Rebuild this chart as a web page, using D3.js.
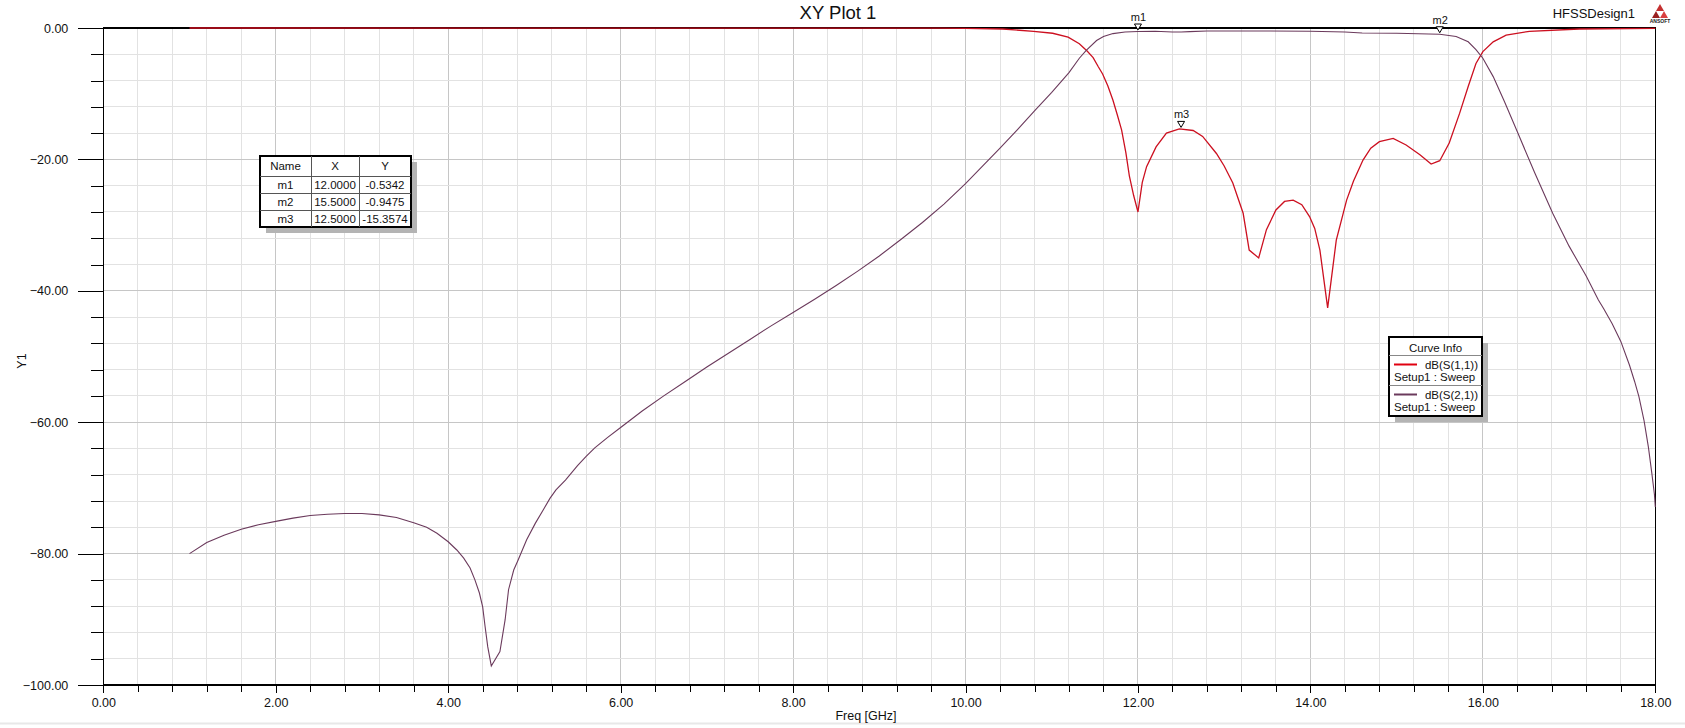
<!DOCTYPE html>
<html>
<head>
<meta charset="utf-8">
<script src="https://cdn.jsdelivr.net/npm/d3@7"></script>
<style>
  html, body { margin: 0; padding: 0; background: #ffffff; }
  svg { display: block; font-family: "Liberation Sans", Arial, sans-serif; }
</style>
</head>
<body>
<svg id="chart" width="1685" height="728"></svg>
<script>
// ---------------- DATA ----------------
const xTickValues = [0, 2, 4, 6, 8, 10, 12, 14, 16, 18];
const yTickValues = [0, -20, -40, -60, -80, -100];

// dB(S(2,1))
const s21Freq = [1.0, 1.2, 1.4, 1.6, 1.8, 2.0, 2.2, 2.4, 2.6, 2.8, 3.0, 3.2, 3.4, 3.6, 3.75, 3.87, 4.0, 4.1, 4.18, 4.254, 4.31, 4.362, 4.40, 4.428, 4.459, 4.50,
  4.60, 4.66, 4.70, 4.76, 4.81, 4.91, 5.01, 5.10, 5.18, 5.25, 5.36, 5.5, 5.6, 5.7, 5.85, 6.0, 6.25, 6.5, 6.75, 7.0, 7.25, 7.5, 7.75, 8.0, 8.25, 8.5,
  8.75, 9.0, 9.25, 9.5, 9.75, 10.0, 10.2, 10.4, 10.6, 10.8, 11.0, 11.2, 11.32, 11.4, 11.52, 11.6, 11.71, 11.85,
  12.0, 12.2, 12.4, 12.5, 12.6, 12.8, 13.5, 14.0, 14.4, 14.6, 15.0, 15.5, 15.69, 15.83, 15.92, 16.0, 16.12, 16.25, 16.39, 16.6, 16.81,
  17.0, 17.2, 17.34, 17.4, 17.5, 17.6, 17.7, 17.76, 17.81, 17.87, 17.92, 17.96, 17.99, 18.0];
const s21Db = [-80.0, -78.3, -77.2, -76.3, -75.6, -75.1, -74.6, -74.2, -74.0, -73.9, -73.9, -74.1, -74.5, -75.3, -76.0, -76.9, -78.2, -79.45, -80.7, -82.2, -84.0, -86.0, -88.1, -91.1, -94.2, -97.1,
  -94.9, -90.1, -85.5, -82.5, -81.0, -77.9, -75.4, -73.4, -71.6, -70.3, -68.8, -66.6, -65.2, -63.9, -62.3, -60.8, -58.3, -56.0, -53.8, -51.6, -49.5, -47.4, -45.3, -43.3, -41.3, -39.2,
  -37.0, -34.7, -32.2, -29.6, -26.8, -23.7, -21.0, -18.3, -15.5, -12.6, -9.8, -6.8, -4.6, -3.4, -1.9, -1.3, -0.85, -0.6,
  -0.53, -0.5, -0.6, -0.62, -0.55, -0.45, -0.45, -0.5, -0.6, -0.75, -0.8, -0.95, -1.3, -2.1, -3.3, -4.6, -7.4, -11.2, -15.5, -22.0, -28.2,
  -33.2, -37.8, -41.4, -42.7, -45.0, -47.7, -51.3, -53.8, -56.1, -59.8, -63.8, -67.8, -71.0, -72.9];

// dB(S(1,1))
const s11Freq = [1.0, 9.7, 10.0, 10.43, 10.79, 11.01, 11.19, 11.32, 11.41, 11.48, 11.54, 11.59, 11.65, 11.71, 11.76, 11.81, 11.86, 11.9, 11.95,
  12.0, 12.05, 12.1, 12.21, 12.33, 12.48, 12.64, 12.75, 12.91, 13.0, 13.1, 13.22, 13.29, 13.40, 13.49, 13.6, 13.7, 13.8, 13.9, 13.99,
  14.05, 14.11, 14.2, 14.3, 14.42, 14.5, 14.61, 14.7, 14.8, 14.96, 15.11, 15.27, 15.4, 15.5, 15.61, 15.73, 15.83, 15.92, 16.0, 16.12,
  16.27, 16.54, 17.12, 18.0];
const s11Db = [0.0, -0.02, -0.05, -0.15, -0.5, -0.8, -1.4, -2.4, -3.5, -4.5, -5.9, -7.0, -8.8, -11.0, -13.2, -15.5, -19.0, -22.5, -25.5,
  -28.0, -23.5, -21.1, -18.1, -16.0, -15.36, -15.6, -16.5, -19.1, -21.0, -23.6, -28.2, -33.8, -35.0, -30.7, -27.7, -26.4, -26.2, -26.9, -28.7,
  -30.5, -33.8, -42.6, -32.3, -26.2, -23.3, -20.1, -18.3, -17.3, -16.8, -17.8, -19.3, -20.7, -20.2, -17.5, -13.0, -8.9, -5.4, -3.6, -2.1,
  -1.1, -0.5, -0.15, -0.05];

// markers
const markerNames = ["m1", "m2", "m3"];
const markerX = [12.0, 15.5, 12.5];
const markerY = [-0.5342, -0.9475, -15.3574];
const markerXText = ["12.0000", "15.5000", "12.5000"];
const markerYText = ["-0.5342", "-0.9475", "-15.3574"];

const legendNames = ["dB(S(1,1))", "dB(S(2,1))"];
const legendSetup = ["Setup1 : Sweep", "Setup1 : Sweep"];

// ---------------- STYLE / LAYOUT ----------------
const colS11 = "#cc1020";
const colS21 = "#6b3a5c";
const L = 103.3, R = 1655.3, T = 28, B = 685;

const svg = d3.select("#chart");
const x = d3.scaleLinear().domain([0, 18]).range([L, R]);
const y = d3.scaleLinear().domain([-100, 0]).range([B, T]);

// bottom window border line
svg.append("line").attr("x1", 0).attr("x2", 1685).attr("y1", 723.5).attr("y2", 723.5)
  .attr("stroke", "#e8e8e8").attr("stroke-width", 2);

// grid
const xMinor = d3.range(0, 18.0001, 0.4).map(v => +v.toFixed(2));
const yMinor = d3.range(-100, 0.0001, 4);
const grid = svg.append("g");
grid.selectAll(".vx").data(xMinor).enter().append("line")
  .attr("x1", d => x(d)).attr("x2", d => x(d)).attr("y1", T).attr("y2", B)
  .attr("stroke", d => (Math.abs(d / 2 - Math.round(d / 2)) < 1e-6) ? "#c6c6c6" : "#e2e2e2")
  .attr("stroke-width", 1).attr("shape-rendering", "crispEdges");
grid.selectAll(".hy").data(yMinor).enter().append("line")
  .attr("x1", L).attr("x2", R).attr("y1", d => y(d)).attr("y2", d => y(d))
  .attr("stroke", d => (d % 20 === 0) ? "#c6c6c6" : "#e2e2e2")
  .attr("stroke-width", 1).attr("shape-rendering", "crispEdges");

// axes (ticks)
const fmt = d3.format(".2f");
const yMinorAxis = svg.append("g").attr("transform", `translate(${L},0)`)
  .call(d3.axisLeft(y).tickValues(yMinor).tickSize(12).tickFormat(""));
const yMajorAxis = svg.append("g").attr("transform", `translate(${L},0)`)
  .call(d3.axisLeft(y).tickValues(yTickValues).tickSize(25).tickPadding(10).tickFormat(fmt));
const xMinorAxis = svg.append("g").attr("transform", `translate(0,${B})`)
  .call(d3.axisBottom(x).tickValues(xMinor).tickSize(7).tickFormat(""));
const xMajorAxis = svg.append("g").attr("transform", `translate(0,${B})`)
  .call(d3.axisBottom(x).tickValues(xTickValues).tickSize(8).tickPadding(5).tickFormat(fmt));
[yMinorAxis, yMajorAxis, xMinorAxis, xMajorAxis].forEach(g => {
  g.select(".domain").remove();
  g.selectAll("line").attr("stroke", "#000").attr("shape-rendering", "crispEdges");
  g.selectAll("text").attr("fill", "#111").style("font-size", "12.5px")
    .style("font-family", '"Liberation Sans", Arial, sans-serif');
});

// frame
svg.append("rect").attr("x", L).attr("y", T).attr("width", R - L).attr("height", B - T)
  .attr("fill", "none").attr("stroke", "#000").attr("stroke-width", 1.2).attr("shape-rendering", "crispEdges");

// curves
const clip = svg.append("clipPath").attr("id", "plotclip").append("rect")
  .attr("x", L).attr("y", T - 2).attr("width", R - L + 1).attr("height", B - T + 4);
const line = d3.line().x(d => x(d[0])).y(d => y(d[1]));
const s11Pts = s11Freq.map((f, i) => [f, s11Db[i]]);
const s21Pts = s21Freq.map((f, i) => [f, s21Db[i]]);
svg.append("path").attr("d", line(s11Pts)).attr("fill", "none").attr("stroke", colS11)
  .attr("stroke-width", 1.3).attr("clip-path", "url(#plotclip)");
svg.append("path").attr("d", line(s21Pts)).attr("fill", "none").attr("stroke", colS21)
  .attr("stroke-width", 1.1).attr("clip-path", "url(#plotclip)");

// markers
markerNames.forEach((n, i) => {
  const px = x(markerX[i]), py = y(markerY[i]);
  svg.append("path")
    .attr("d", `M${px - 3.5},${py - 7.5} L${px + 3.5},${py - 7.5} L${px},${py - 1.5} Z`)
    .attr("fill", "#fff").attr("stroke", "#000").attr("stroke-width", 1);
  svg.append("text").attr("x", px + 0.5).attr("y", py - 10.5).attr("text-anchor", "middle")
    .style("font-size", "11px").attr("fill", "#111").text(n);
});

// marker table
(function () {
  const tx = 260, ty = 156, cols = [0, 51, 99, 151], rows = [0, 20, 37, 54, 71];
  const g = svg.append("g");
  g.append("rect").attr("x", tx + 6).attr("y", ty + 6).attr("width", cols[3]).attr("height", rows[4]).attr("fill", "#b4b4b4");
  g.append("rect").attr("x", tx).attr("y", ty).attr("width", cols[3]).attr("height", rows[4])
    .attr("fill", "#fff").attr("stroke", "#000").attr("stroke-width", 1.2).attr("shape-rendering", "crispEdges");
  [1, 2].forEach(c => g.append("line").attr("x1", tx + cols[c]).attr("x2", tx + cols[c]).attr("y1", ty).attr("y2", ty + rows[4])
    .attr("stroke", "#555").attr("shape-rendering", "crispEdges"));
  [1, 2, 3].forEach(r => g.append("line").attr("x1", tx).attr("x2", tx + cols[3]).attr("y1", ty + rows[r]).attr("y2", ty + rows[r])
    .attr("stroke", "#555").attr("shape-rendering", "crispEdges"));
  const header = ["Name", "X", "Y"];
  const cells = [header].concat(markerNames.map((n, i) => [n, markerXText[i], markerYText[i]]));
  cells.forEach((row, r) => row.forEach((txt, c) => {
    g.append("text").attr("x", tx + (cols[c] + cols[c + 1]) / 2).attr("y", ty + (rows[r] + rows[r + 1]) / 2 + 4)
      .attr("text-anchor", "middle").style("font-size", "11.5px").attr("fill", "#111").text(txt);
  }));
})();

// legend
(function () {
  const lx = 1389, ly = 337, w = 93, h = 79;
  const g = svg.append("g");
  g.append("rect").attr("x", lx + 6).attr("y", ly + 6).attr("width", w).attr("height", h).attr("fill", "#b4b4b4");
  g.append("rect").attr("x", lx).attr("y", ly).attr("width", w).attr("height", h)
    .attr("fill", "#fff").attr("stroke", "#000").attr("stroke-width", 1.2).attr("shape-rendering", "crispEdges");
  g.append("text").attr("x", lx + w / 2).attr("y", ly + 14.5).attr("text-anchor", "middle")
    .style("font-size", "11.5px").attr("fill", "#111").text("Curve Info");
  [18, 48].forEach(off => g.append("line").attr("x1", lx).attr("x2", lx + w).attr("y1", ly + off).attr("y2", ly + off)
    .attr("stroke", "#888").attr("shape-rendering", "crispEdges"));
  const cols = ["#e00010", colS21];
  legendNames.forEach((n, i) => {
    const oy = ly + 18 + i * 30;
    g.append("line").attr("x1", lx + 5).attr("x2", lx + 28).attr("y1", oy + 9.5).attr("y2", oy + 9.5)
      .attr("stroke", cols[i]).attr("stroke-width", 2);
    g.append("text").attr("x", lx + 89).attr("y", oy + 13.5).attr("text-anchor", "end")
      .style("font-size", "11.5px").attr("fill", "#111").text(n);
    g.append("text").attr("x", lx + 5).attr("y", oy + 26).attr("text-anchor", "start")
      .style("font-size", "11.5px").attr("fill", "#111").text(legendSetup[i]);
  });
})();

// titles
svg.append("text").attr("x", 838).attr("y", 19).attr("text-anchor", "middle")
  .style("font-size", "18.5px").attr("fill", "#111").text("XY Plot 1");
svg.append("text").attr("x", 1635).attr("y", 18).attr("text-anchor", "end")
  .style("font-size", "13px").attr("fill", "#111").text("HFSSDesign1");
svg.append("text").attr("x", 866).attr("y", 720).attr("text-anchor", "middle")
  .style("font-size", "12.5px").attr("fill", "#111").text("Freq [GHz]");
svg.append("text").attr("transform", "translate(26,361) rotate(-90)").attr("text-anchor", "middle")
  .style("font-size", "12.5px").attr("fill", "#111").text("Y1");

// Ansoft logo
(function () {
  const g = svg.append("g").attr("transform", "translate(1660,4)");
  g.append("path").attr("d", "M0,0 L4,7 L-4,7 Z").attr("fill", "#c43030");
  g.append("path").attr("d", "M-4,7 L0,14 L-8,14 Z").attr("fill", "#9a2020");
  g.append("path").attr("d", "M4,7 L8,14 L0,14 Z").attr("fill", "#d84040");
  g.append("text").attr("x", 0).attr("y", 19).attr("text-anchor", "middle")
    .style("font-size", "5px").style("font-weight", "bold").attr("fill", "#222").text("ANSOFT");
})();
</script>
</body>
</html>
